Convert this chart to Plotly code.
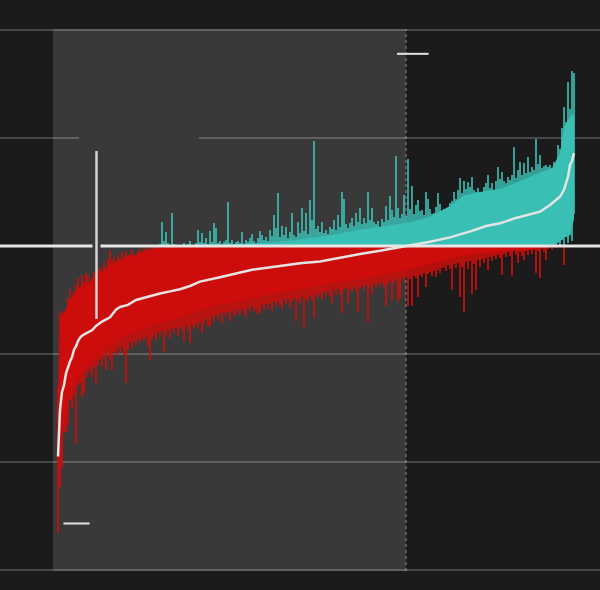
"""
Ranked effect chart: one vertical range per item, sorted by mean.
Red below zero, teal above zero, white line is the item mean.
"""

import plotly.graph_objects as go

# ── Data ──────────────────────────────────────────────────────────────────────
# per-item extremes (items ranked 0..258 by mean)
spike_hi = [
    -1.31, -0.62, -0.60, -0.63, -0.58, -0.48, -0.40, -0.52, -0.43, -0.36,
    -0.30, -0.38, -0.27, -0.33, -0.25, -0.27, -0.34, -0.30, -0.24, -0.29,
    -0.22, -0.19, -0.23, -0.16, -0.20, -0.12, -0.04, -0.13, -0.10, -0.15,
    -0.08, -0.12, -0.06, -0.10, -0.05, -0.09, -0.07, -0.04, -0.08, -0.10,
    -0.05, -0.03, -0.06, -0.02, -0.04, -0.01, -0.03, 0.00, -0.02, 0.01,
    0.00, 0.02, 0.22, 0.05, 0.13, 0.03, 0.00, 0.31, 0.02, -0.01,
    0.01, -0.02, 0.00, 0.03, 0.00, 0.02, 0.05, 0.01, 0.00, 0.03,
    0.15, 0.04, 0.12, 0.03, 0.07, 0.02, 0.14, 0.04, 0.21, 0.17,
    0.03, 0.05, 0.02, 0.04, 0.06, 0.41, 0.03, 0.06, 0.02, 0.04,
    0.05, 0.03, 0.13, 0.02, 0.06, 0.04, 0.07, 0.11, 0.05, 0.03,
    0.07, 0.14, 0.10, 0.06, 0.08, 0.05, 0.15, 0.09, 0.29, 0.17,
    0.49, 0.08, 0.19, 0.10, 0.18, 0.07, 0.13, 0.31, 0.10, 0.08,
    0.22, 0.12, 0.35, 0.14, 0.31, 0.11, 0.43, 0.24, 0.97, 0.16,
    0.19, 0.13, 0.22, 0.12, 0.15, 0.11, 0.18, 0.16, 0.24, 0.15,
    0.29, 0.18, 0.50, 0.44, 0.20, 0.17, 0.21, 0.26, 0.19, 0.31,
    0.22, 0.35, 0.20, 0.26, 0.21, 0.50, 0.24, 0.35, 0.22, 0.20,
    0.23, 0.17, 0.25, 0.22, 0.37, 0.24, 0.46, 0.33, 0.27, 0.83,
    0.35, 0.26, 0.30, 0.47, 0.28, 0.81, 0.34, 0.56, 0.30, 0.38,
    0.43, 0.32, 0.33, 0.29, 0.50, 0.44, 0.34, 0.30, 0.31, 0.36,
    0.49, 0.39, 0.27, 0.34, 0.31, 0.33, 0.40, 0.42, 0.50, 0.44,
    0.52, 0.63, 0.49, 0.60, 0.53, 0.59, 0.55, 0.64, 0.52, 0.50,
    0.54, 0.49, 0.45, 0.55, 0.58, 0.66, 0.54, 0.58, 0.52, 0.60,
    0.73, 0.62, 0.69, 0.60, 0.58, 0.64, 0.61, 0.66, 0.92, 0.63,
    0.70, 0.78, 0.66, 0.77, 0.68, 0.82, 0.69, 0.73, 0.70, 0.99,
    0.76, 0.84, 0.72, 0.74, 0.75, 0.73, 0.75, 0.72, 0.78, 0.76,
    0.94, 0.90, 1.09, 1.29, 1.15, 1.52, 1.27, 1.62, 1.60,
]
spike_lo = [
    -2.66, -2.23, -2.06, -1.73, -1.72, -1.66, -1.43, -1.50, -1.38, -1.83,
    -1.30, -1.27, -1.40, -1.36, -1.22, -1.18, -1.15, -1.21, -1.12, -1.27,
    -1.10, -1.06, -1.12, -1.03, -1.15, -1.00, -1.05, -1.15, -0.98, -1.02,
    -0.95, -0.99, -0.93, -1.01, -1.27, -0.96, -0.90, -0.94, -0.88, -0.92,
    -0.86, -0.90, -0.85, -0.88, -0.84, -0.93, -1.06, -0.86, -0.82, -0.87,
    -0.80, -0.84, -0.79, -0.98, -0.82, -0.78, -0.85, -0.77, -0.81, -0.76,
    -0.83, -0.75, -0.79, -0.88, -0.74, -0.78, -0.90, -0.73, -0.77, -0.72,
    -0.76, -0.70, -0.81, -0.72, -0.68, -0.75, -0.74, -0.66, -0.70, -0.64,
    -0.68, -0.63, -0.71, -0.62, -0.66, -0.61, -0.69, -0.60, -0.65, -0.63,
    -0.59, -0.64, -0.58, -0.62, -0.66, -0.57, -0.60, -0.56, -0.61, -0.58,
    -0.63, -0.62, -0.55, -0.59, -0.54, -0.58, -0.53, -0.60, -0.52, -0.56,
    -0.51, -0.55, -0.58, -0.50, -0.54, -0.49, -0.57, -0.52, -0.48, -0.69,
    -0.50, -0.53, -0.47, -0.75, -0.49, -0.52, -0.46, -0.50, -0.67, -0.45,
    -0.48, -0.44, -0.50, -0.43, -0.47, -0.42, -0.46, -0.53, -0.41, -0.45,
    -0.40, -0.44, -0.62, -0.41, -0.39, -0.53, -0.40, -0.43, -0.38, -0.42,
    -0.61, -0.39, -0.37, -0.41, -0.36, -0.70, -0.38, -0.44, -0.35, -0.39,
    -0.34, -0.37, -0.33, -0.38, -0.56, -0.35, -0.32, -0.50, -0.34, -0.31,
    -0.52, -0.48, -0.30, -0.33, -0.29, -0.56, -0.31, -0.56, -0.28, -0.30,
    -0.47, -0.27, -0.29, -0.25, -0.38, -0.26, -0.24, -0.28, -0.23, -0.29,
    -0.22, -0.25, -0.20, -0.19, -0.23, -0.18, -0.21, -0.41, -0.17, -0.20,
    -0.16, -0.47, -0.19, -0.61, -0.15, -0.21, -0.14, -0.44, -0.17, -0.41,
    -0.13, -0.19, -0.12, -0.16, -0.11, -0.22, -0.10, -0.14, -0.09, -0.12,
    -0.08, -0.11, -0.27, -0.07, -0.10, -0.06, -0.09, -0.28, -0.05, -0.08,
    -0.16, -0.06, -0.09, -0.13, -0.05, -0.08, -0.04, -0.07, -0.03, -0.25,
    -0.05, -0.30, -0.02, -0.06, -0.13, -0.03, -0.01, -0.04, 0.02, -0.02,
    0.04, 0.01, 0.06, -0.18, 0.08, 0.03, 0.10, 0.05, 0.30,
]

# dense inner range, sampled at a few ranks
core_rank = [0, 1, 2, 4, 6, 8, 11, 16, 21, 26, 31, 36, 41, 46, 56, 66, 76, 91,
             106, 121, 136, 151, 166, 176, 186, 196, 203, 211, 221, 231, 241,
             247, 251, 253, 256, 258]
core_lo = [-1.80, -1.84, -1.72, -1.54, -1.40, -1.29, -1.20, -1.08, -1.00, -0.93,
           -0.86, -0.81, -0.78, -0.74, -0.69, -0.63, -0.56, -0.51, -0.45, -0.40,
           -0.35, -0.31, -0.26, -0.21, -0.17, -0.12, -0.09, -0.07, -0.055, -0.04,
           -0.03, 0.0, 0.04, 0.08, 0.10, 0.25]
core_hi = [-1.35, -0.67, -0.66, -0.58, -0.50, -0.45, -0.38, -0.33, -0.25, -0.18,
           -0.14, -0.10, -0.07, -0.04, -0.01, 0.0, 0.01, 0.02, 0.03, 0.06,
           0.10, 0.15, 0.19, 0.22, 0.27, 0.37, 0.47, 0.50, 0.53, 0.60,
           0.68, 0.72, 0.86, 1.10, 1.20, 1.22]

# item means
mean_rank = [0, 1, 2, 3, 4, 5, 6, 7, 8, 9, 10, 11, 12, 14, 17, 19, 22, 26, 29,
             31, 35, 39, 43, 46, 51, 56, 61, 66, 71, 81, 91, 97, 111, 121, 131,
             141, 151, 161, 171, 176, 186, 196, 201, 207, 214, 221, 229, 236,
             241, 246, 251, 253, 254, 255, 256, 257, 258]
mean_val = [-1.95, -1.52, -1.35, -1.29, -1.18, -1.12, -1.07, -1.03, -0.96, -0.93,
            -0.88, -0.85, -0.83, -0.81, -0.78, -0.74, -0.70, -0.66, -0.59, -0.565,
            -0.545, -0.50, -0.48, -0.46, -0.44, -0.42, -0.40, -0.37, -0.33, -0.29,
            -0.25, -0.22, -0.185, -0.16, -0.144, -0.108, -0.074, -0.044, -0.012,
            0.003, 0.04, 0.08, 0.106, 0.14, 0.185, 0.21, 0.26, 0.296, 0.318,
            0.38, 0.456, 0.52, 0.574, 0.64, 0.75, 0.787, 0.86]

ZERO_CROSS_RANK = 174          # first rank with mean above zero
CI_RANK, CI_LO, CI_HI = 19.25, -0.675, 0.88
TOP_MARK = (169.5, 185.3, 1.78)
BOTTOM_MARK = (2.7, 15.8, -2.57)

# ── Style ─────────────────────────────────────────────────────────────────────
BG = "#1b1b1b"
SHADE = "#393939"
RED = "#cc0d0b"
TEAL = "#3abfb4"
RED_SPIKE = "rgba(204,13,11,0.85)"
TEAL_SPIKE = "rgba(58,191,180,0.82)"
WHITE = "#e4e4e4"


# ── Helpers ───────────────────────────────────────────────────────────────────

def _split(lo, hi):
    """Split ranges at zero: (neg_base, neg_height, pos_base, pos_height)."""
    nb = [min(a, 0) for a in lo]
    nh = [min(b, 0) - min(a, 0) for a, b in zip(lo, hi)]
    pb = [max(a, 0) for a in lo]
    ph = [max(b, 0) - max(a, 0) for a, b in zip(lo, hi)]
    return nb, nh, pb, ph


def _band(x, lo, hi, color):
    return [
        go.Scatter(x=x, y=lo, mode="lines", line=dict(width=0), hoverinfo="skip"),
        go.Scatter(x=x, y=hi, mode="lines", line=dict(width=0), fill="tonexty",
                   fillcolor=color, hoverinfo="skip"),
    ]


# ── Figure ────────────────────────────────────────────────────────────────────

ranks = list(range(len(spike_hi)))
nb, nh, pb, ph = _split(spike_lo, spike_hi)

fig = go.Figure()
fig.add_trace(go.Bar(x=ranks, y=nh, base=nb, width=1.0,
                     marker=dict(color=RED_SPIKE, line=dict(width=0))))
fig.add_trace(go.Bar(x=ranks, y=ph, base=pb, width=1.0,
                     marker=dict(color=TEAL_SPIKE, line=dict(width=0))))

for t in _band(core_rank, [min(v, 0) for v in core_lo], [min(v, 0) for v in core_hi], RED):
    fig.add_trace(t)
for t in _band(core_rank, [max(v, 0) for v in core_lo], [max(v, 0) for v in core_hi], TEAL):
    fig.add_trace(t)

fig.add_trace(go.Scatter(x=mean_rank, y=mean_val, mode="lines",
                         line=dict(color=WHITE, width=2.5)))

shapes = [
    dict(type="rect", xref="x", yref="paper", x0=-2.5, x1=ZERO_CROSS_RANK, y0=0, y1=1,
         fillcolor=SHADE, line=dict(width=0), layer="below"),
    dict(type="rect", x0=10.5, x1=70.5, y0=0.984, y1=1.016,
         fillcolor=SHADE, line=dict(width=0), layer="between"),
    dict(type="line", xref="x", yref="paper", x0=ZERO_CROSS_RANK, x1=ZERO_CROSS_RANK,
         y0=0, y1=1, line=dict(color="#8a8a8a", width=1, dash="3px,3px"), layer="between"),
    dict(type="line", xref="paper", x0=0, x1=1, y0=0, y1=0,
         line=dict(color="#e6e6e6", width=3), layer="above"),
    dict(type="rect", x0=CI_RANK - 2, x1=CI_RANK + 2, y0=-0.02, y1=0.02,
         fillcolor=SHADE, line=dict(width=0), layer="above"),
    dict(type="line", x0=CI_RANK, x1=CI_RANK, y0=CI_LO, y1=CI_HI,
         line=dict(color="#d4d4d4", width=2.5), layer="above"),
    dict(type="line", x0=TOP_MARK[0], x1=TOP_MARK[1], y0=TOP_MARK[2], y1=TOP_MARK[2],
         line=dict(color="#e2e2e2", width=2), layer="above"),
    dict(type="line", x0=BOTTOM_MARK[0], x1=BOTTOM_MARK[1], y0=BOTTOM_MARK[2],
         y1=BOTTOM_MARK[2], line=dict(color="#e2e2e2", width=2), layer="above"),
]

fig.update_layout(
    width=600, height=590,
    margin=dict(l=0, r=0, t=29, b=19),
    paper_bgcolor=BG, plot_bgcolor=BG,
    showlegend=False,
    barmode="overlay", bargap=0,
    xaxis=dict(range=[-29, 271], showgrid=False, zeroline=False,
               showticklabels=False, ticks=""),
    yaxis=dict(range=[-3.01, 2.01], tick0=0, dtick=1, showgrid=True,
               gridcolor="rgba(255,255,255,0.2)", gridwidth=1.5, zeroline=False,
               showticklabels=False, ticks=""),
    shapes=shapes,
)

# page body margin would shift the 600x590 figure inside the window
fig.write_html(
    "out.html",
    config={"displayModeBar": False},
    post_script="document.body.style.margin='0';document.body.style.overflow='hidden';",
)
